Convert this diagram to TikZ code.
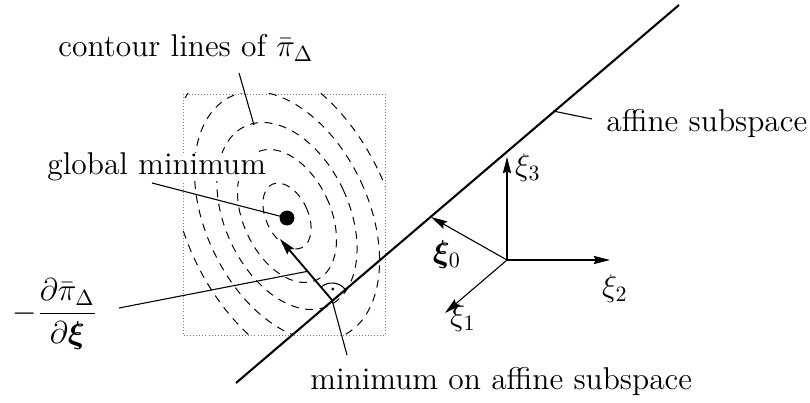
\documentclass[tikz,border=0pt]{standalone}
\usepackage{amsmath,bm}
\usetikzlibrary{arrows.meta,calc}
\begin{document}
\begin{tikzpicture}[x=0.457pt,y=-0.457pt,
  lbl/.style={inner sep=0pt,font=\fontsize{14.4}{17}\selectfont},
  thinline/.style={line width=0.5pt},
  subspace/.style={line width=0.95pt},
  contour/.style={line width=0.45pt,dash pattern=on 3.6pt off 3pt},
  frame/.style={line width=0.4pt,gray,dash pattern=on 0.4pt off 1pt},
  axis/.style={line width=0.5pt,-{Stealth[length=7.5pt,width=3.8pt,inset=1pt]}},
  grad/.style={line width=0.85pt,-{Stealth[length=7.5pt,width=4pt,inset=1pt]}}]
\useasboundingbox (0,0) rectangle (810,403);
% frame
\coordinate (R1) at (183,94);
\coordinate (R2) at (385,335);
\draw[frame] (R1) rectangle (R2);
% contour lines
\coordinate (C) at (287,216);
\begin{scope}
  \clip (R1) rectangle (R2);
  \foreach \a/\b in {21/35,43.6/70.5,62/99,81.5/132,102/165}{
    \draw[contour,rotate around={25:(C)}] (C) ellipse[x radius=\a,y radius=\b];
  }
\end{scope}
% affine subspace
\coordinate (A1) at (236,383);
\coordinate (A2) at (679,5);
\draw[subspace] (A1) -- (A2);
% points
\node[circle,fill=black,inner sep=0pt,minimum size=6.8pt] (gmin) at (287,218) {};
\coordinate (M) at (332,300);
\coordinate (Gt) at (280,239);
\draw[grad] (M) -- (Gt);
% right angle mark
\draw[thinline] ([shift={(-40.7:17)}]M) arc[start angle=-40.7,end angle=-130.4,radius=17];
\fill ([shift={(-85.5:11)}]M) circle[radius=1.6];
% axes
\coordinate (O) at (507,260);
\coordinate (X0) at (431,217);
\coordinate (X1) at (445,313);
\coordinate (X2) at (610,260);
\coordinate (X3) at (507,157);
\draw[axis] (O) -- (X0);
\draw[axis] (O) -- (X1);
\draw[axis] (O) -- (X2);
\draw[axis] (O) -- (X3);
\node[lbl] (l0) at (447,255) {$\bm{\xi}_0$};
\node[lbl] (l1) at (463,318) {$\xi_1$};
\node[lbl] (l2) at (615,289) {$\xi_2$};
\node[lbl] (l3) at (528,168) {$\xi_3$};
% labels
\node[lbl,anchor=base west] (tcont) at (58,57) {contour lines of $\bar\pi_\Delta$};
\node[lbl,anchor=base west,fill=white] (tglob) at (47,175) {global minimum};
\node[lbl,anchor=base west] (taff) at (606,132) {affine subspace};
\node[lbl,anchor=base west] (tmin) at (310,390) {minimum on affine subspace};
\node[lbl] (tgrad) at (55,314) {$-\dfrac{\partial\bar\pi_\Delta}{\partial\bm{\xi}}$};
% label lines
\coordinate (c1) at (239,73);
\coordinate (c2) at (254,125);
\draw[thinline] (c1) -- (c2);
\coordinate (g1) at (152,183);
\draw[thinline] (g1) -- (gmin.center);
\coordinate (a1) at (553,111);
\coordinate (a2) at (592,119);
\draw[thinline] (a1) -- (a2);
\coordinate (m2) at (347,355);
\draw[thinline] (M) -- (m2);
\coordinate (d1) at (119,308);
\draw[thinline] (d1) -- ($(M)!0.47!(Gt)$);
\end{tikzpicture}
\end{document}
